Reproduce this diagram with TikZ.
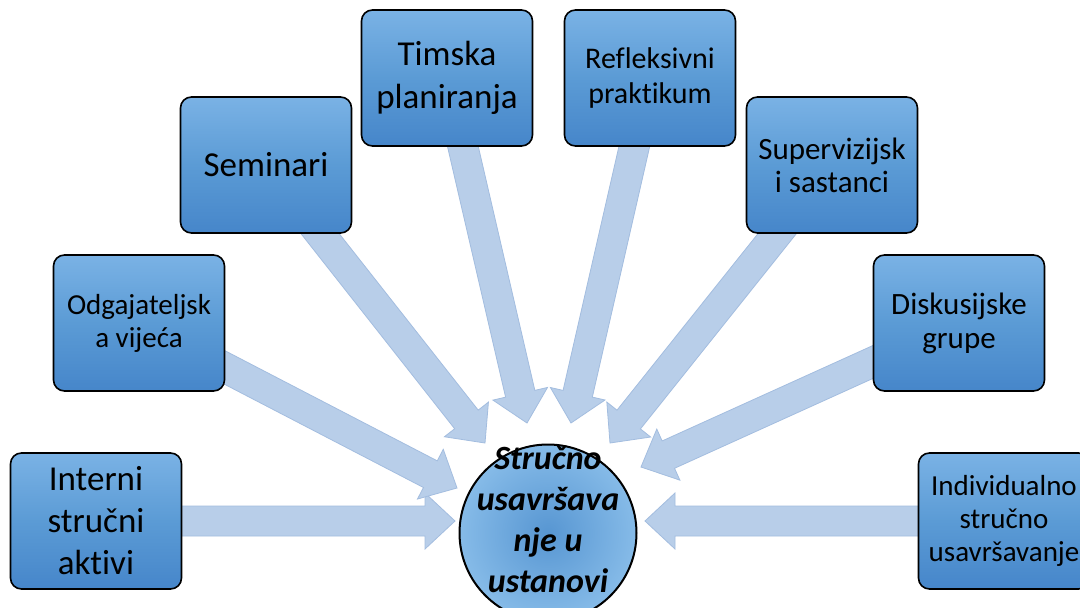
\documentclass[tikz,border=0pt]{standalone}
\usepackage{fontspec}
\setmainfont{Carlito}[Ligatures=NoCommon]
\usetikzlibrary{calc,backgrounds}
\definecolor{boxtop}{HTML}{7AB2E5}
\definecolor{boxmid}{HTML}{5B9BD5}
\definecolor{boxbot}{HTML}{4686CA}
\definecolor{arrfill}{HTML}{B8CEE9}
\definecolor{arrline}{HTML}{A3BDDF}
\definecolor{circin}{HTML}{5796D2}
\definecolor{circout}{HTML}{86BBE8}
\newcommand\fsz[2]{\fontsize{#1}{#2}\selectfont}
\newcommand\blockarrow[2]{%
  \path[arrowstyle] let \p1=(#1), \p2=(#2), \n1={atan2(\y2-\y1,\x2-\x1)} in
    ($(\p1)+({\n1+90}:15pt)$)
    -- ($(\p2)+({\n1+180}:30pt)+({\n1+90}:15pt)$)
    -- ($(\p2)+({\n1+180}:30pt)+({\n1+90}:28pt)$)
    -- (\p2)
    -- ($(\p2)+({\n1+180}:30pt)+({\n1-90}:28pt)$)
    -- ($(\p2)+({\n1+180}:30pt)+({\n1-90}:15pt)$)
    -- ($(\p1)+({\n1-90}:15pt)$) -- cycle;}
\tikzset{
  box/.style={draw=black, line width=1.6pt, rounded corners=11pt,
    top color=boxtop, bottom color=boxbot, middle color=boxmid,
    minimum width=171pt, minimum height=136pt, align=center, inner sep=0pt, text=black},
  arrowstyle/.style={fill=arrfill, draw=arrline, line width=0.8pt, line join=miter},
  hub/.style={circle, draw=black, line width=2pt, minimum size=177pt, inner sep=0pt,
    inner color=circin, outer color=circout},
}
\begin{document}
\begin{tikzpicture}[x=1pt,y=-1pt]
\useasboundingbox (0,0) rectangle (1080,608);
\node[box, font={\fsz{35}{42}}] (bI) at (96,521) {Interni\\stručni\\aktivi};
\node[box, font={\fsz{29}{33}}] (bO) at (139,323) {Odgajateljsk\\a vijeća};
\node[box, font={\fsz{35}{42}}] (bS) at (266,165) {Seminari};
\node[box, font={\fsz{35}{43}}] (bT) at (447,78) {Timska\\planiranja};
\node[box, font={\fsz{30}{35}}] (bR) at (650,78) {Refleksivni\\praktikum};
\node[box, font={\fsz{31}{33}}] (bSu) at (832,165) {Supervizijsk\\i sastanci};
\node[box, font={\fsz{31}{34}}] (bD) at (959,323) {Diskusijske\\grupe};
\node[box, font={\fsz{29}{33}}] (bIn) at (1004,521) {Individualno\\stručno\\usavršavanje};
\node[hub] (hub) at (548,533) {};
\node[font={\fsz{34}{41}\bfseries\itshape}, align=center, inner sep=0pt] (hubtext) at (548,520) {Stručno\\usavršava\\nje u\\ustanovi};
\coordinate (tI) at (455,521);
\coordinate (tO) at (457,488);
\coordinate (tS) at (485,443);
\coordinate (tT) at (527,423);
\coordinate (tR) at (571,423);
\coordinate (tSu) at (610,443);
\coordinate (tD) at (641,467);
\coordinate (tIn) at (645,521);
\begin{scope}[on background layer]
\fill[white] (0,0) rectangle (1080,608);
\blockarrow{bI}{tI}
\blockarrow{bO}{tO}
\blockarrow{bS}{tS}
\blockarrow{bT}{tT}
\blockarrow{bR}{tR}
\blockarrow{bSu}{tSu}
\blockarrow{bD}{tD}
\blockarrow{bIn}{tIn}
\end{scope}
\end{tikzpicture}
\end{document}
